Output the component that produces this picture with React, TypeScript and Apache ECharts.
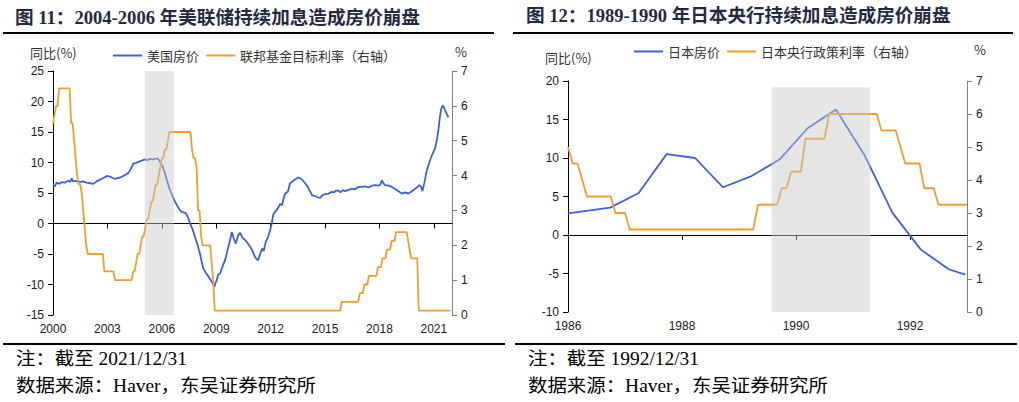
import React, { useEffect, useRef } from 'react';
import * as echarts from 'echarts';

// ---------- Data: left chart (US) ----------
const usYearTicks = [2000, 2003, 2006, 2009, 2012, 2015, 2018, 2021];
const usZeroTicks = [2003, 2006, 2009, 2012, 2015, 2018, 2021];

// [year, YoY %]
const usHousePrice: [number, number][] = [
  [2000.0, 6.3], [2000.1, 6.1], [2000.2, 6.7], [2000.35, 6.5], [2000.5, 6.8], [2000.65, 6.7],
  [2000.85, 7.0], [2000.95, 6.8], [2001.03, 7.4], [2001.1, 6.9], [2001.21, 7.0], [2001.35, 6.9],
  [2001.49, 6.8], [2001.65, 6.9], [2001.86, 6.7], [2002.05, 6.6], [2002.22, 6.5], [2002.4, 6.9],
  [2002.6, 7.2], [2002.8, 7.5], [2003.0, 7.8], [2003.12, 7.7], [2003.24, 7.55], [2003.4, 7.3],
  [2003.51, 7.4], [2003.65, 7.5], [2003.79, 7.65], [2004.0, 8.0], [2004.16, 8.3], [2004.3, 9.0],
  [2004.43, 9.8], [2004.55, 9.9], [2004.71, 10.1], [2004.9, 10.3], [2005.07, 10.5], [2005.2, 10.4],
  [2005.35, 10.6], [2005.53, 10.5], [2005.72, 10.7], [2005.82, 10.5], [2005.9, 10.1], [2006.05, 9.3],
  [2006.18, 8.2], [2006.3, 6.9], [2006.45, 5.5], [2006.6, 4.4], [2006.73, 3.55], [2006.87, 2.8],
  [2007.0, 2.2], [2007.1, 1.9], [2007.25, 1.8], [2007.37, 1.5], [2007.47, 0.8], [2007.56, 0.0],
  [2007.7, -1.0], [2007.83, -2.2], [2007.97, -3.5], [2008.1, -4.9], [2008.2, -6.3], [2008.29, -7.4],
  [2008.43, -8.1], [2008.57, -8.7], [2008.7, -9.3], [2008.79, -9.7], [2008.9, -10.4], [2008.95, -9.8],
  [2009.03, -9.3], [2009.1, -8.4], [2009.21, -8.2], [2009.35, -7.0], [2009.49, -6.0], [2009.58, -4.9],
  [2009.67, -3.8], [2009.78, -2.5], [2009.86, -1.4], [2009.95, -2.3], [2010.08, -3.3], [2010.2, -2.0],
  [2010.31, -1.5], [2010.45, -2.3], [2010.59, -2.7], [2010.73, -3.2], [2010.87, -3.8], [2011.0, -4.5],
  [2011.14, -5.5], [2011.25, -5.9], [2011.32, -6.0], [2011.42, -5.0], [2011.54, -4.1], [2011.62, -4.5],
  [2011.73, -3.0], [2011.85, -2.3], [2011.97, -1.1], [2012.06, 0.0], [2012.15, 1.5], [2012.24, 1.9],
  [2012.38, 2.4], [2012.52, 3.2], [2012.62, 3.0], [2012.7, 3.9], [2012.8, 4.9], [2012.95, 5.2],
  [2013.07, 6.6], [2013.2, 6.9], [2013.35, 7.2], [2013.53, 7.55], [2013.7, 7.3], [2013.9, 6.6],
  [2014.05, 6.0], [2014.18, 5.2], [2014.3, 4.6], [2014.45, 4.5], [2014.6, 4.3], [2014.73, 4.2],
  [2014.85, 4.6], [2015.0, 4.8], [2015.2, 4.9], [2015.37, 5.2], [2015.5, 5.1], [2015.6, 5.4],
  [2015.74, 5.4], [2015.85, 5.1], [2016.0, 5.5], [2016.1, 5.3], [2016.3, 5.5], [2016.47, 5.7],
  [2016.65, 5.6], [2016.84, 6.0], [2017.0, 6.0], [2017.21, 6.1], [2017.4, 5.9], [2017.58, 6.2],
  [2017.75, 6.3], [2017.94, 6.2], [2018.05, 6.4], [2018.13, 7.1], [2018.22, 6.6], [2018.31, 6.3],
  [2018.5, 6.2], [2018.68, 6.0], [2018.85, 5.7], [2019.05, 5.3], [2019.23, 4.9], [2019.4, 5.1],
  [2019.6, 4.9], [2019.75, 5.2], [2019.97, 5.7], [2020.1, 6.0], [2020.19, 6.3], [2020.3, 6.0],
  [2020.37, 5.3], [2020.48, 6.7], [2020.61, 8.7], [2020.75, 10.0], [2020.85, 10.9], [2021.0, 11.9],
  [2021.07, 12.3], [2021.17, 13.8], [2021.25, 15.3], [2021.32, 17.2], [2021.39, 18.6], [2021.47, 19.3],
  [2021.53, 19.2], [2021.6, 18.7], [2021.66, 18.3], [2021.8, 17.4],
];

// Monthly fed funds target (%), Jan 2000 .. Dec 2021
const ffrStartYear = 2000;
const fedFundsRate = [
  5.5, 5.75, 6.0, 6.0, 6.5, 6.5, 6.5, 6.5, 6.5, 6.5, 6.5, 6.5, // 2000
  5.5, 5.5, 5.0, 4.5, 4.0, 3.75, 3.75, 3.5, 3.0, 2.5, 2.0, 1.75, // 2001
  1.75, 1.75, 1.75, 1.75, 1.75, 1.75, 1.75, 1.75, 1.75, 1.75, 1.25, 1.25, // 2002
  1.25, 1.25, 1.25, 1.25, 1.25, 1.0, 1.0, 1.0, 1.0, 1.0, 1.0, 1.0, // 2003
  1.0, 1.0, 1.0, 1.0, 1.0, 1.25, 1.25, 1.5, 1.75, 1.75, 2.0, 2.25, // 2004
  2.25, 2.5, 2.75, 2.75, 3.0, 3.25, 3.25, 3.5, 3.75, 3.75, 4.0, 4.25, // 2005
  4.5, 4.5, 4.75, 4.75, 5.0, 5.25, 5.25, 5.25, 5.25, 5.25, 5.25, 5.25, // 2006
  5.25, 5.25, 5.25, 5.25, 5.25, 5.25, 5.25, 5.25, 4.75, 4.5, 4.5, 4.25, // 2007
  3.0, 3.0, 2.25, 2.0, 2.0, 2.0, 2.0, 2.0, 2.0, 1.5, 1.0, 0.125, // 2008
  0.125, 0.125, 0.125, 0.125, 0.125, 0.125, 0.125, 0.125, 0.125, 0.125, 0.125, 0.125, // 2009
  0.125, 0.125, 0.125, 0.125, 0.125, 0.125, 0.125, 0.125, 0.125, 0.125, 0.125, 0.125, // 2010
  0.125, 0.125, 0.125, 0.125, 0.125, 0.125, 0.125, 0.125, 0.125, 0.125, 0.125, 0.125, // 2011
  0.125, 0.125, 0.125, 0.125, 0.125, 0.125, 0.125, 0.125, 0.125, 0.125, 0.125, 0.125, // 2012
  0.125, 0.125, 0.125, 0.125, 0.125, 0.125, 0.125, 0.125, 0.125, 0.125, 0.125, 0.125, // 2013
  0.125, 0.125, 0.125, 0.125, 0.125, 0.125, 0.125, 0.125, 0.125, 0.125, 0.125, 0.125, // 2014
  0.125, 0.125, 0.125, 0.125, 0.125, 0.125, 0.125, 0.125, 0.125, 0.125, 0.125, 0.375, // 2015
  0.375, 0.375, 0.375, 0.375, 0.375, 0.375, 0.375, 0.375, 0.375, 0.375, 0.375, 0.625, // 2016
  0.625, 0.625, 0.875, 0.875, 0.875, 1.125, 1.125, 1.125, 1.125, 1.125, 1.125, 1.375, // 2017
  1.375, 1.375, 1.625, 1.625, 1.625, 1.875, 1.875, 1.875, 2.125, 2.125, 2.125, 2.375, // 2018
  2.375, 2.375, 2.375, 2.375, 2.375, 2.375, 2.375, 2.125, 1.875, 1.625, 1.625, 1.625, // 2019
  1.625, 1.625, 0.125, 0.125, 0.125, 0.125, 0.125, 0.125, 0.125, 0.125, 0.125, 0.125, // 2020
  0.125, 0.125, 0.125, 0.125, 0.125, 0.125, 0.125, 0.125, 0.125, 0.125, 0.125, 0.125, // 2021
];
const usShade = [2005.07, 2006.66];

// ---------- Data: right chart (Japan) ----------
const jpYearTicks = [1986, 1988, 1990, 1992];
const jpZeroTicks = [1988, 1990, 1992];

const jpHousePrice: [number, number][] = [
  [1986.0, 2.8], [1986.74, 3.55], [1987.24, 5.45], [1987.73, 10.5], [1988.23, 10.0],
  [1988.72, 6.2], [1989.22, 7.65], [1989.71, 9.8], [1990.21, 13.9], [1990.7, 16.3],
  [1991.2, 10.4], [1991.69, 2.9], [1992.19, -1.9], [1992.68, -4.45], [1992.97, -5.15],
];

// Monthly BOJ policy rate (%), Jan 1986 .. Jan 1993
const bojStartYear = 1986;
const bojRate = [
  5.0, 4.5, 4.5, 4.0, 3.5, 3.5, 3.5, 3.5, 3.5, 3.5, 3.0, 3.0, // 1986
  3.0, 2.5, 2.5, 2.5, 2.5, 2.5, 2.5, 2.5, 2.5, 2.5, 2.5, 2.5, // 1987
  2.5, 2.5, 2.5, 2.5, 2.5, 2.5, 2.5, 2.5, 2.5, 2.5, 2.5, 2.5, // 1988
  2.5, 2.5, 2.5, 2.5, 3.25, 3.25, 3.25, 3.25, 3.25, 3.75, 3.75, 4.25, // 1989
  4.25, 4.25, 5.25, 5.25, 5.25, 5.25, 5.25, 6.0, 6.0, 6.0, 6.0, 6.0, // 1990
  6.0, 6.0, 6.0, 6.0, 6.0, 6.0, 5.5, 5.5, 5.5, 5.5, 5.0, 4.5, // 1991
  4.5, 4.5, 4.5, 3.75, 3.75, 3.75, 3.25, 3.25, 3.25, 3.25, 3.25, 3.25, // 1992
  3.25, // 1993
];
const jpShade = [1989.57, 1991.3];

const BLUE = '#3b62d9';
const ORANGE = '#f59d2a';
const SHADE = 'rgba(200,200,200,0.45)';
const LABEL_FONT = 'Liberation Sans';
const CJK = '"Noto Sans CJK SC"';

function monthlyPairs(start: number, values: number[]): [number, number][] {
  return values.map((v, i) => [start + i / 12, v]);
}

export default function App() {
  const ref = useRef<HTMLDivElement>(null);

  useEffect(() => {
    if (!ref.current) return;
    const chart = echarts.init(ref.current, undefined, { renderer: 'svg' });

    const axisLabel = { color: '#1a1a1a', fontSize: 12, fontFamily: LABEL_FONT };

    const valueY = (min: number, max: number, interval: number, gridIndex: number, position: string, lineColor: string) => ({
      type: 'value',
      gridIndex,
      position,
      min,
      max,
      interval,
      splitLine: { show: false },
      axisLine: { show: true, lineStyle: { color: lineColor, width: 1 } },
      axisTick: { show: true, length: 5, lineStyle: { color: lineColor } },
      axisLabel: { ...axisLabel, margin: 9 },
    });

    const labelX = (min: number, max: number, gridIndex: number, labels: number[]) => ({
      type: 'value',
      gridIndex,
      position: 'bottom',
      min,
      max,
      splitLine: { show: false },
      axisLine: { show: false, onZero: false },
      axisTick: { show: false },
      axisLabel: { ...axisLabel, margin: 8, customValues: labels, formatter: (v: number) => String(Math.round(v)) },
    });

    const zeroX = (min: number, max: number, gridIndex: number, ticks: number[]) => ({
      type: 'value',
      gridIndex,
      position: 'bottom',
      min,
      max,
      splitLine: { show: false },
      axisLine: { show: true, onZero: true, lineStyle: { color: '#000', width: 1.2 } },
      axisTick: { show: true, length: 5, customValues: ticks, lineStyle: { color: '#000' } },
      axisLabel: { show: false },
    });

    const line = (name: string, xAxisIndex: number, yAxisIndex: number, data: [number, number][], color: string) => ({
      type: 'line',
      name,
      xAxisIndex,
      yAxisIndex,
      data,
      symbol: 'none',
      showSymbol: false,
      lineStyle: { color, width: 1.8 },
      itemStyle: { color },
      z: 3,
    });

    const shade = (xAxisIndex: number, yAxisIndex: number, x: number[], y: number[]) => ({
      type: 'line',
      name: 'shade' + xAxisIndex,
      xAxisIndex,
      yAxisIndex,
      data: [],
      clip: false,
      silent: true,
      markArea: {
        silent: true,
        z: 10,
        itemStyle: { color: SHADE },
        data: [[{ xAxis: x[0], yAxis: y[0] }, { xAxis: x[1], yAxis: y[1] }]],
      },
    });

    const textEl = (text: string, x: number, y: number, font: string, fill: string, scaleX = 1) => ({
      type: 'text',
      x,
      y,
      scaleX,
      style: { text, font, fill, verticalAlign: 'middle', align: 'left' },
    });
    const rule = (x1: number, x2: number, y: number) => ({
      type: 'line',
      shape: { x1, y1: y, x2, y2: y },
      style: { stroke: '#000', lineWidth: 2 },
    });

    const titleFont = 'bold 18.6px "Liberation Serif", ' + CJK;
    const noteFont = '18px "Liberation Serif", ' + CJK;
    const smallFont = '13px ' + CJK;
    const noteScale = 1.08;

    chart.setOption({
      animation: false,
      backgroundColor: '#fff',
      grid: [
        { left: 53, top: 71, width: 399, height: 244 },
        { left: 568, top: 81, width: 399, height: 231 },
      ],
      legend: [
        {
          left: 108, top: 44, icon: 'rect', itemWidth: 29, itemHeight: 2, itemGap: 7,
          textStyle: { fontSize: 13, fontFamily: CJK, color: '#333' },
          data: ['美国房价', '联邦基金目标利率（右轴）'],
        },
        {
          left: 629, top: 40, icon: 'rect', itemWidth: 29, itemHeight: 2, itemGap: 7,
          textStyle: { fontSize: 13, fontFamily: CJK, color: '#333' },
          data: ['日本房价', '日本央行政策利率（右轴）'],
        },
      ],
      xAxis: [
        labelX(2000, 2022, 0, usYearTicks),
        zeroX(2000, 2022, 0, usZeroTicks),
        labelX(1986, 1993, 1, jpYearTicks),
        zeroX(1986, 1993, 1, jpZeroTicks),
      ],
      yAxis: [
        valueY(-15, 25, 5, 0, 'left', '#000'),
        valueY(0, 7, 1, 0, 'right', '#808080'),
        valueY(-10, 20, 5, 1, 'left', '#000'),
        valueY(0, 7, 1, 1, 'right', '#808080'),
      ],
      series: [
        line('美国房价', 0, 0, usHousePrice, BLUE),
        line('联邦基金目标利率（右轴）', 0, 1, monthlyPairs(ffrStartYear, fedFundsRate), ORANGE),
        shade(0, 0, usShade, [-15, 26]),
        line('日本房价', 2, 2, jpHousePrice, BLUE),
        line('日本央行政策利率（右轴）', 2, 3, monthlyPairs(bojStartYear, bojRate), ORANGE),
        shade(2, 2, jpShade, [-10, 19.2]),
      ],
      graphic: [
        textEl('图 11：2004-2006 年美联储持续加息造成房价崩盘', 15, 17, titleFont, '#1f2a44'),
        textEl('图 12：1989-1990 年日本央行持续加息造成房价崩盘', 526, 15, titleFont, '#1f2a44'),
        rule(3, 494, 33),
        rule(513, 1013, 33),
        textEl('同比(%)', 30, 52, smallFont, '#333'),
        textEl('%', 455, 51, smallFont, '#333'),
        textEl('同比(%)', 545, 57, smallFont, '#333'),
        textEl('%', 974, 49, smallFont, '#333'),
        rule(3, 505, 344),
        rule(515, 1017, 344),
        textEl('注：截至 2021/12/31', 16, 359, noteFont, '#000', noteScale),
        textEl('数据来源：Haver，东吴证券研究所', 16, 386, noteFont, '#000', noteScale),
        textEl('注：截至 1992/12/31', 528, 359, noteFont, '#000', noteScale),
        textEl('数据来源：Haver，东吴证券研究所', 528, 386, noteFont, '#000', noteScale),
      ],
    });

    return () => chart.dispose();
  }, []);

  return (
    <div
      ref={ref}
      style={{ position: 'absolute', left: 0, top: 0, width: 1019, height: 402, background: '#fff' }}
    />
  );
}
